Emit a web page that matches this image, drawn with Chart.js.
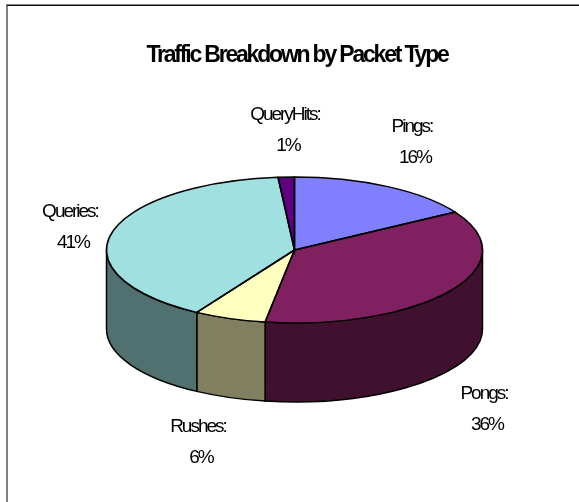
<!DOCTYPE html>
<html>
<head>
    <title>Traffic Breakdown by Packet Type</title>
    <style>
        body {
            margin: 0;
            padding: 0;
            background-color: #FFFFFF;
        }

        #chart-container {
            position: relative;
            width: 579px;
            height: 502px;
        }

        canvas {
            display: block;
        }
    </style>
</head>
<body>
    <div id="chart-container">
        <canvas id="chart" width="579" height="502"></canvas>
    </div>

    <script src="https://cdn.jsdelivr.net/npm/chart.js"></script>
    <script>
        var categories = ['Pings', 'Pongs', 'Rushes', 'Queries', 'QueryHits'];
        var shares = [16.3, 36.2, 6.2, 39.9, 1.4];
        var shareLabels = ['16%', '36%', '6%', '41%', '1%']; // as printed

        var topColors = ['#8080FF', '#802060', '#FFFFC0', '#A0E0E0', '#600080'];
        var sideColors = ['#404080', '#3F112E', '#808060', '#517070', '#300040'];

        // Where the squashed pie goes on the canvas
        var pie = { x: 294.5, y: 250, rx: 188, ry: 73, depth: 79 };

        // Centre of each label's first line, same order as categories
        var labelSpots = [[412, 127], [484, 394], [198, 427], [70, 212], [285, 115]];
        var labelGap = 31;

        function ellipseArc(ctx, y, from, to, back) {
            ctx.ellipse(pie.x, y, pie.rx, pie.ry, 0, from, to, back);
        }

        var tiltedPie = {
            id: 'tiltedPie',
            beforeDraw: function(chart) {
                // Tight tracking of the original, picked up by the title too
                chart.ctx.letterSpacing = '-2.2px';
            },
            beforeDatasetsDraw: function(chart) {
                var ctx = chart.ctx;
                var arcs = chart.getDatasetMeta(0).data;

                // Rim: only the front half of the pie shows a side wall
                arcs.forEach(function(arc, i) {
                    var from = Math.max(arc.startAngle, 0);
                    var to = Math.min(arc.endAngle, Math.PI);
                    if (from >= to) {
                        return;
                    }
                    ctx.beginPath();
                    ellipseArc(ctx, pie.y, from, to, false);
                    ellipseArc(ctx, pie.y + pie.depth, to, from, true);
                    ctx.closePath();
                    ctx.fillStyle = sideColors[i];
                    ctx.fill();
                    ctx.strokeStyle = '#000000';
                    ctx.lineWidth = 1.5;
                    ctx.stroke();
                });

                // Let the library paint its arcs through a flattening transform
                var first = arcs[0];
                ctx.save();
                ctx.translate(pie.x, pie.y);
                ctx.scale(pie.rx / first.outerRadius, pie.ry / first.outerRadius);
                ctx.translate(-first.x, -first.y);
            },
            afterDatasetsDraw: function(chart) {
                var ctx = chart.ctx;
                ctx.restore();

                // Outlines stay an even width, so stroke them after the transform
                chart.getDatasetMeta(0).data.forEach(function(arc) {
                    ctx.beginPath();
                    ctx.moveTo(pie.x, pie.y);
                    ellipseArc(ctx, pie.y, arc.startAngle, arc.endAngle, false);
                    ctx.closePath();
                    ctx.strokeStyle = '#000000';
                    ctx.lineWidth = 1.5;
                    ctx.stroke();
                });

                // Two line labels
                ctx.save();
                ctx.fillStyle = '#000000';
                ctx.font = '19px "Liberation Sans", Arial, sans-serif';
                ctx.textAlign = 'center';
                ctx.textBaseline = 'middle';
                ctx.letterSpacing = '-2px';
                categories.forEach(function(name, i) {
                    ctx.fillText(name + ':', labelSpots[i][0], labelSpots[i][1]);
                    ctx.fillText(shareLabels[i], labelSpots[i][0] + 3, labelSpots[i][1] + labelGap);
                });
                ctx.restore();
            },
            afterDraw: function(chart) {
                // The frame only shows on the top and left
                var ctx = chart.ctx;
                ctx.save();
                ctx.fillStyle = '#808080';
                ctx.fillRect(6, 4, 573, 1);
                ctx.fillRect(6, 4, 2, 498);
                ctx.fillStyle = '#111111';
                ctx.fillRect(7, 5, 572, 1);
                ctx.restore();
            }
        };

        var ctx = document.getElementById('chart').getContext('2d');
        var chart = new Chart(ctx, {
            type: 'pie',
            data: {
                labels: categories,
                datasets: [{
                    data: shares,
                    backgroundColor: topColors,
                    borderWidth: 0,
                    hoverBorderWidth: 0
                }]
            },
            options: {
                responsive: false,
                animation: false,
                events: [],
                layout: {
                    padding: { left: 55, right: 40, top: 0, bottom: 60 }
                },
                plugins: {
                    legend: { display: false },
                    tooltip: { enabled: false },
                    title: {
                        display: true,
                        text: 'Traffic Breakdown by Packet Type',
                        color: '#000000',
                        font: {
                            family: '"Liberation Sans", Arial, sans-serif',
                            size: 23,
                            weight: 'bold'
                        },
                        padding: { top: 42, bottom: 10 }
                    }
                }
            },
            plugins: [tiltedPie]
        });
    </script>
</body>
</html>
